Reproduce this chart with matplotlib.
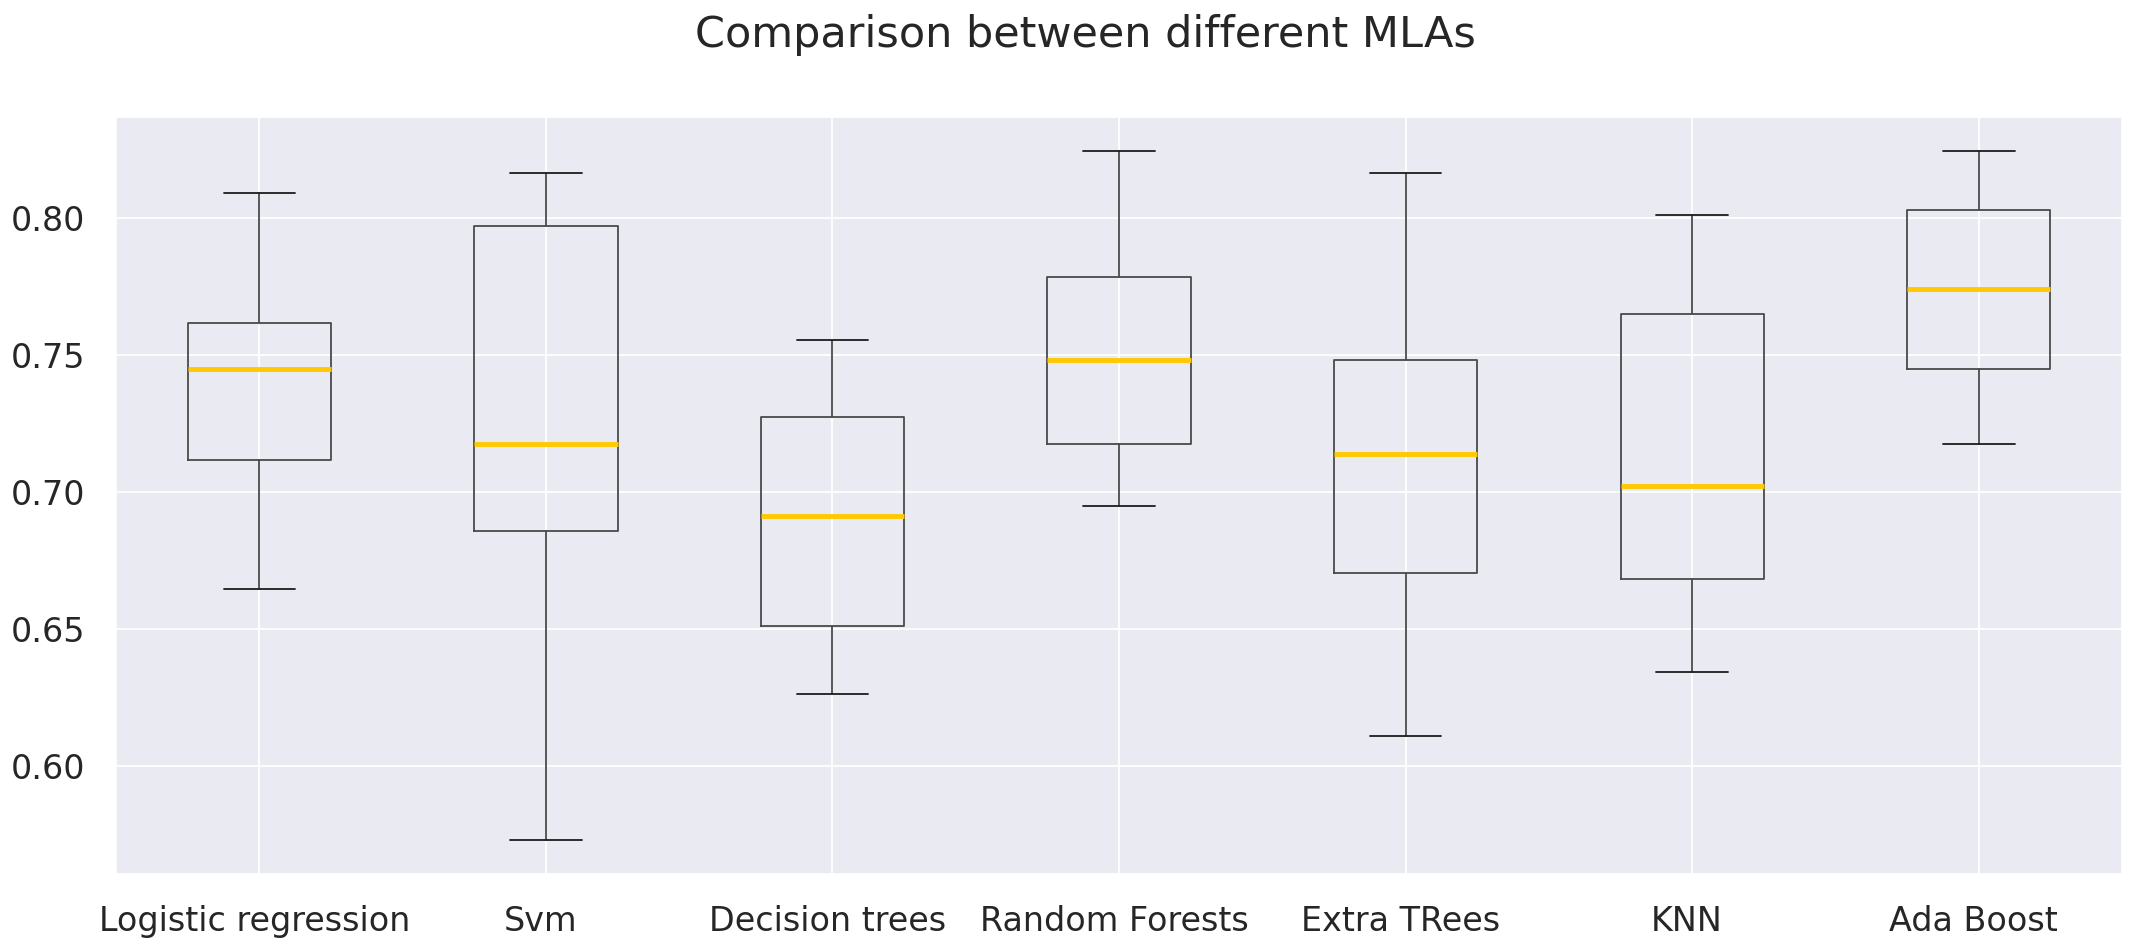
import matplotlib
matplotlib.use('Agg')
import matplotlib.pyplot as plt
import matplotlib.transforms as mtransforms
import seaborn as sns

# Data (box stats per model)
MODELS = ['Logistic regression', 'Svm', 'Decision trees', 'Random Forests',
          'Extra TRees', 'KNN', 'Ada Boost']
WHISK_HI = [0.8089, 0.8163, 0.7554, 0.8243, 0.8163, 0.8010, 0.8243]
Q3 = [0.7614, 0.7970, 0.7272, 0.7782, 0.7480, 0.7649, 0.8030]
MEDIAN = [0.7446, 0.7173, 0.6911, 0.7480, 0.7139, 0.7020, 0.7738]
Q1 = [0.7114, 0.6856, 0.6510, 0.7173, 0.6703, 0.6683, 0.7446]
WHISK_LO = [0.6644, 0.5730, 0.6262, 0.6946, 0.6109, 0.6342, 0.7173]

BOX_COLOR = '#4a4a4a'
CAP_COLOR = '#1c1c1c'
MEDIAN_COLOR = '#ffc800'

sns.set_theme(style='darkgrid')
plt.rcParams['font.family'] = ['DejaVu Sans']

fig = plt.figure(figsize=(21.37, 9.49), dpi=100)
ax = fig.add_axes([0.0543, 0.079, 0.9387, 0.798])

stats = []
for name, lo, q1, med, q3, hi in zip(MODELS, WHISK_LO, Q1, MEDIAN, Q3, WHISK_HI):
    stats.append({'label': name, 'whislo': lo, 'q1': q1, 'med': med,
                  'q3': q3, 'whishi': hi, 'fliers': []})

ax.bxp(stats, showfliers=False,
       boxprops=dict(color=BOX_COLOR, linewidth=1.3),
       whiskerprops=dict(color=BOX_COLOR, linewidth=1.3),
       capprops=dict(color=CAP_COLOR, linewidth=1.3),
       medianprops=dict(color=MEDIAN_COLOR, linewidth=3.5))

ax.grid(True, color='white', linewidth=1.3)
ax.tick_params(axis='both', length=0, labelsize=24, pad=22)
ax.tick_params(axis='both', colors='#262626')

# labels sit a touch left of their ticks in the original
shift = mtransforms.ScaledTranslation(-5 / 100, 0, fig.dpi_scale_trans)
for lbl in ax.get_xticklabels():
    lbl.set_transform(lbl.get_transform() + shift)

fig.text(0.5077, 0.950, 'Comparison between different MLAs', ha='center',
         va='baseline', fontsize=31, color='#262626')

fig.savefig('out.png', dpi=100)
